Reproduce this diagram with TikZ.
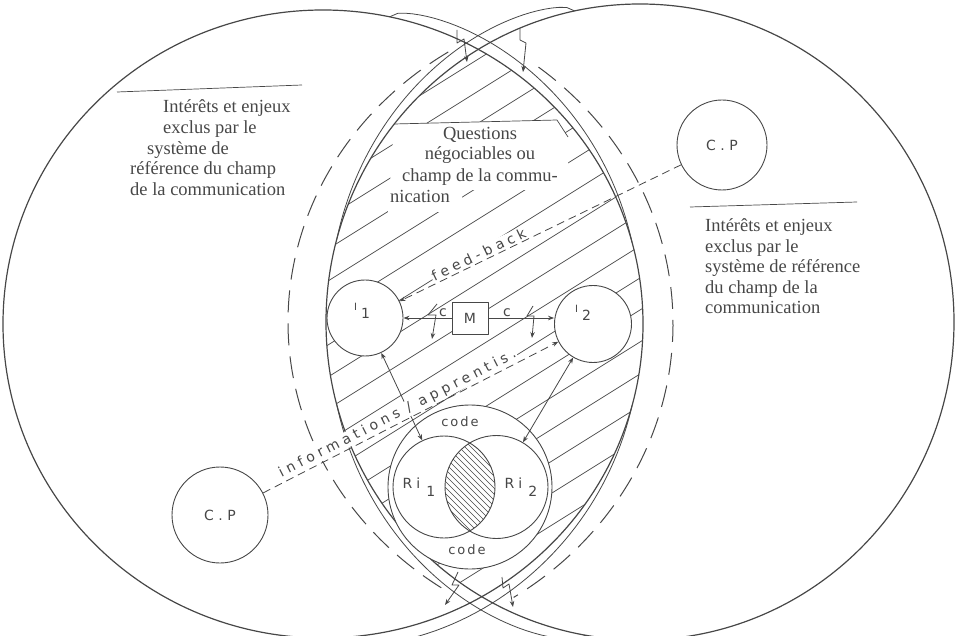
\documentclass[tikz,border=0pt]{standalone}
\usepackage{fontspec}
\setmainfont{Liberation Serif}
\newfontfamily\labfont[LetterSpace=30]{DejaVu Sans}
\newfontfamily\codefont[LetterSpace=15]{DejaVu Sans}
\newfontfamily\capfont{DejaVu Sans}
\usetikzlibrary{arrows.meta,calc}
\definecolor{ink}{gray}{0.28}
\begin{document}
\begin{tikzpicture}[x=1pt,y=-1pt,line join=round,
  mainline/.style={draw=ink,line width=1.2pt},
  bandline/.style={draw=ink,line width=0.8pt},
  dashring/.style={draw=ink,line width=1pt,dash pattern=on 22pt off 11pt},
  hatchline/.style={draw=ink,line width=0.7pt},
  finehatch/.style={draw=ink,line width=0.45pt},
  ring/.style={circle,draw=ink,line width=0.9pt,inner sep=0pt},
  headtip/.style={-{Stealth[length=6pt,width=4.5pt]}},
  arrline/.style={draw=ink,line width=0.8pt,headtip},
  dualline/.style={draw=ink,line width=0.8pt,{Stealth[length=6pt,width=4.5pt]}-{Stealth[length=6pt,width=4.5pt]}},
  dashconn/.style={draw=ink,line width=0.8pt,dash pattern=on 8pt off 5pt,headtip},
  body/.style={text=ink,font=\fontsize{18.5}{20.5}\selectfont,inner sep=0pt},
  sanslab/.style={text=ink,font=\capfont\fontsize{14}{14}\selectfont,inner sep=0pt},
  slab/.style={text=ink,font=\labfont\fontsize{14}{14}\selectfont,inner sep=1pt,fill=white},
  codelab/.style={text=ink,font=\codefont\fontsize{13}{13}\selectfont,inner sep=0pt},
]
\useasboundingbox (0,0) rectangle (959,636);

% hatching of the common field
\begin{scope}
  \clip (323,324) ellipse [x radius=320, y radius=314];
  \clip (640,322) ellipse [x radius=314, y radius=318];
  \foreach \b in {230,262,...,1030} \draw[hatchline] (300,\b-187.5) -- (680,\b-425);
\end{scope}

% white area behind the "Questions" text
\fill[white] (394,124) -- (557,120) -- (568,137) -- (568,190) -- (462,190) -- (462,212) -- (388,212) -- cycle;
\draw[hatchline] (394,124) -- (557,120) -- (568,137);

% the two big circles
\draw[mainline] (323,324) ellipse [x radius=320, y radius=314];
\draw[mainline] (640,322) ellipse [x radius=314, y radius=318];

% bands near the tips
\draw[bandline] plot[domain=0:1,samples=50,variable=\u]
  ({323+(320+12*sin(180*sqrt(\u)))*cos(-78+63*\u)},{324+(314+12*sin(180*sqrt(\u)))*sin(-78+63*\u)});
\draw[bandline] plot[domain=0:1,samples=50,variable=\u]
  ({323+(320+12*sin(180*sqrt(\u)))*cos(90-75*\u)},{324+(314+12*sin(180*sqrt(\u)))*sin(90-75*\u)});
\draw[bandline] plot[domain=0:1,samples=50,variable=\u]
  ({640+(314+12*sin(180*sqrt(\u)))*cos(-102-63*\u)},{322+(318+12*sin(180*sqrt(\u)))*sin(-102-63*\u)});
\draw[bandline] plot[domain=0:1,samples=50,variable=\u]
  ({640+(314+12*sin(180*sqrt(\u)))*cos(100+65*\u)},{322+(318+12*sin(180*sqrt(\u)))*sin(100+65*\u)});

% dashed reference systems
\draw[dashring] (640,322) ++(-123:352 and 322) arc[start angle=-123,end angle=-237,x radius=352,y radius=322];
\draw[dashring] (323,324) ++(-52:350 and 326) arc[start angle=-52,end angle=57,x radius=350,y radius=326];

% separator lines
\coordinate (lsepA) at (117,92);
\coordinate (lsepB) at (302,85);
\coordinate (rsepA) at (690,207);
\coordinate (rsepB) at (857,202);
\draw[hatchline] (lsepA) -- (lsepB);
\draw[hatchline] (rsepA) -- (rsepB);

% left text
\node[body,anchor=base west] (l1) at (163,113) {Intérêts et enjeux};
\node[body,anchor=base west] (l2) at (163,134) {exclus par le};
\node[body,anchor=base west] (l3) at (147,155) {système de};
\node[body,anchor=base west] (l4) at (130,175) {référence du champ};
\node[body,anchor=base west] (l5) at (130,196) {de la communication};

% right text
\node[body,anchor=base west] (r1) at (705,232) {Intérêts et enjeux};
\node[body,anchor=base west] (r2) at (705,253) {exclus par le};
\node[body,anchor=base west] (r3) at (705,273) {système de référence};
\node[body,anchor=base west] (r4) at (705,294) {du champ de la};
\node[body,anchor=base west] (r5) at (705,314) {communication};

% middle text
\node[body,anchor=base] (q1) at (480,140) {Questions};
\node[body,anchor=base] (q2) at (480,160) {négociables ou};
\node[body,anchor=base] (q3) at (480,182) {champ de la commu-};
\node[body,anchor=base west] (q4) at (390,203) {nication};

% C.P circles
\node[ring,minimum size=90pt,font=\capfont\fontsize{14}{14}\selectfont,text=ink] (cp1) at (722,145) {C . P};
\node[ring,minimum size=96pt,font=\capfont\fontsize{14}{14}\selectfont,text=ink] (cp2) at (220,515) {C . P};

% interlocutors and message
\node[ring,fill=white,minimum size=76pt] (i1) at (365,318) {};
\node[ring,fill=white,minimum size=77pt] (i2) at (593,324) {};
\node[draw=ink,line width=0.9pt,fill=white,minimum width=36pt,minimum height=32pt,inner sep=0pt,text=ink,font=\capfont\fontsize{14}{14}\selectfont] (m) at (470,318) {M};
\node[sanslab] (i1lab) at (362,311) {{\fontsize{10}{10}\selectfont I}\hspace{4pt}\raisebox{-8pt}{1}};
\node[sanslab] (i2lab) at (583,313) {{\fontsize{10}{10}\selectfont I}\hspace{4pt}\raisebox{-8pt}{2}};

% code circle and Ri circles
\node[ring,fill=white,minimum size=164pt] (code) at (470,487) {};
\begin{scope}
  \clip (444,487) circle[radius=51];
  \clip (496.5,487) circle[radius=51.5];
  \foreach \c in {-96,-90,...,60} \draw[finehatch] (\c+430,430) -- (\c+560,560);
\end{scope}
\node[ring,minimum size=102pt] (ri1) at (444,487) {};
\node[ring,minimum size=103pt] (ri2) at (496.5,487) {};
\node[codelab] (codetop) at (460,422) {code};
\node[codelab] (codebot) at (467,550) {code};
\node[sanslab] (ri1lab) at (419,487) {R\hspace{4pt}i\hspace{6pt}\raisebox{-8pt}{1}};
\node[sanslab] (ri2lab) at (521,487) {R\hspace{4pt}i\hspace{6pt}\raisebox{-8pt}{2}};

% connectors
\draw[arrline] (m.west) -- (m.west -| i1.east);
\draw[arrline] (m.east) -- (m.east -| i2.west);
\node[sanslab] (cl) at (443,313) {c};
\node[sanslab] (cr) at (507,313) {c};
\draw[dualline] (i1) -- (ri1);
\draw[dualline] (i2) -- (ri2);
\draw[dashconn] (cp1) -- node[slab,sloped,above=1pt,pos=0.707] (fbl) {feed-back} (i1);
\draw[dashconn] (cp2) -- node[slab,sloped,above=1pt,pos=0.47] (infl) {informations / apprentis.} (i2);

% disturbances (lightning arrows)
\draw[arrline] (457,30) -- (457,43) -- (464,39) -- (467,62);
\draw[arrline] (520,28) -- (520,40) -- (526,43) -- (523,72);
\draw[arrline] (458,572) -- (452,585) -- (459,585) -- (445,605);
\draw[arrline] (502,577) -- (503,588) -- (509,584) -- (513,607);
\draw[arrline] (437,304) -- (428,315) -- (436,315) -- (432,339);
\draw[arrline] (533,306) -- (527,316) -- (534,316) -- (532,338);
\end{tikzpicture}
\end{document}
